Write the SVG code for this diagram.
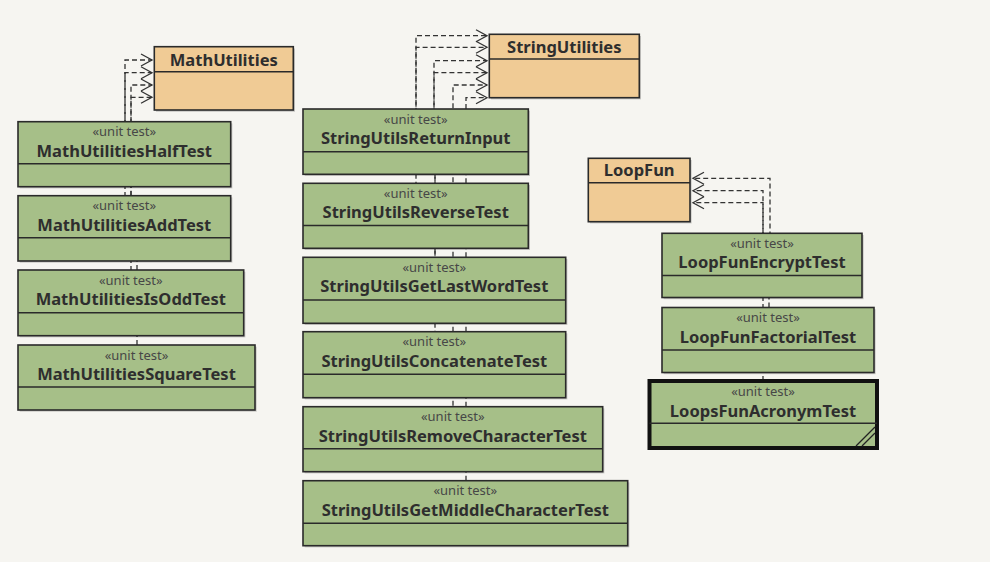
<svg xmlns="http://www.w3.org/2000/svg" width="990" height="562" viewBox="0 0 990 562">
<style>
.bg{fill:#f6f5f1}
.cls{fill:#f0cb95;stroke:#2a2a2a;stroke-width:1.6}
.tst{fill:#a6bf88;stroke:#2a2a2a;stroke-width:1.6}
.sel{fill:#a6bf88;stroke:#111;stroke-width:4}
.shd{fill:#000;opacity:0.18}
.div{stroke:#2a2a2a;stroke-width:1.6;fill:none}
.ttl{font-family:"Noto Sans","Open Sans","DejaVu Sans",sans-serif;font-weight:bold;font-size:16.5px;fill:#2e2e2e;text-anchor:middle}
.st{font-family:"Noto Sans","Open Sans","DejaVu Sans",sans-serif;font-size:13px;fill:#474747;text-anchor:middle}
.dep{fill:none;stroke:#333;stroke-width:1.3;stroke-dasharray:5 3;marker-end:url(#arr)}
.hatch{stroke:#222;stroke-width:1.3}
</style>
<defs>
<marker id="arr" markerUnits="userSpaceOnUse" markerWidth="14" markerHeight="14" refX="12" refY="7" orient="auto">
<path d="M1,1 L12,7 L1,13" fill="none" stroke="#333" stroke-width="1.3"/>
</marker>
</defs>
<rect class="bg" x="0" y="0" width="990" height="562"/>
<g id="connectors">
<path class="dep" d="M137,345 V300 H131 V230 H125 V60 H152"/>
<path class="dep" d="M137,270 V240 H131 V150 H125 V72.7 H152"/>
<path class="dep" d="M131,195.7 V150 V85 H152"/>
<path class="dep" d="M131,121.7 V97.3 H152"/>
<path class="dep" d="M466,109 V97.7 H487"/>
<path class="dep" d="M466,183.3 V160 H453 V85 H487"/>
<path class="dep" d="M466,257.3 V230 H453 V160 H434 V72.7 H487"/>
<path class="dep" d="M466,331.7 V300 H453 V230 H435 V160 H434 V60.7 H487"/>
<path class="dep" d="M466,406.7 V370 H453 V300 H435 V230 H435 V160 H416 V47.3 H487"/>
<path class="dep" d="M466,480.7 V440 H453 V370 H435 V300 H435 V230 H416 V160 H416 V35.7 H487"/>
<path class="dep" d="M763,233.3 V190.7 H693"/>
<path class="dep" d="M769,307.5 V270 H770 V178.3 H693"/>
<path class="dep" d="M763,381 V340 V202.7 H693"/>
</g>
<g id="MathUtilities">
<rect class="shd" x="156" y="48.5" width="139" height="63.3"/>
<rect class="cls" x="154.3" y="46.7" width="139" height="63.3"/>
<line class="div" x1="154.3" y1="71.7" x2="293.3" y2="71.7"/>
<text class="ttl" x="223.8" y="65.5">MathUtilities</text>
</g>
<g id="StringUtilities">
<rect class="shd" x="491" y="36" width="150" height="63.4"/>
<rect class="cls" x="489.3" y="34.3" width="150" height="63.4"/>
<line class="div" x1="489.3" y1="59" x2="639.3" y2="59"/>
<text class="ttl" x="564.3" y="52.8">StringUtilities</text>
</g>
<g id="LoopFun">
<rect class="shd" x="590" y="160" width="101.7" height="63.4"/>
<rect class="cls" x="588.3" y="158.3" width="101.7" height="63.4"/>
<line class="div" x1="588.3" y1="182.7" x2="690" y2="182.7"/>
<text class="ttl" x="639.2" y="176.3">LoopFun</text>
</g>
<g id="MathUtilitiesHalfTest">
<rect class="shd" x="19.7" y="123.4" width="212.7" height="65"/>
<rect class="tst" x="18" y="121.7" width="212.7" height="65"/>
<line class="div" x1="18" y1="163.7" x2="230.7" y2="163.7"/>
<text class="st" x="124.3" y="136.2">«unit test»</text>
<text class="ttl" x="124.3" y="156.7">MathUtilitiesHalfTest</text>
</g>
<g id="MathUtilitiesAddTest">
<rect class="shd" x="19.7" y="197.4" width="212.7" height="65.3"/>
<rect class="tst" x="18" y="195.7" width="212.7" height="65.3"/>
<line class="div" x1="18" y1="237.7" x2="230.7" y2="237.7"/>
<text class="st" x="124.3" y="210.2">«unit test»</text>
<text class="ttl" x="124.3" y="230.7">MathUtilitiesAddTest</text>
</g>
<g id="MathUtilitiesIsOddTest">
<rect class="shd" x="19.7" y="271.7" width="225.7" height="65.7"/>
<rect class="tst" x="18" y="270" width="225.7" height="65.7"/>
<line class="div" x1="18" y1="312.7" x2="243.7" y2="312.7"/>
<text class="st" x="130.8" y="284.5">«unit test»</text>
<text class="ttl" x="130.8" y="305">MathUtilitiesIsOddTest</text>
</g>
<g id="MathUtilitiesSquareTest">
<rect class="shd" x="19.7" y="346.7" width="237" height="65"/>
<rect class="tst" x="18" y="345" width="237" height="65"/>
<line class="div" x1="18" y1="387" x2="255" y2="387"/>
<text class="st" x="136.5" y="359.5">«unit test»</text>
<text class="ttl" x="136.5" y="380">MathUtilitiesSquareTest</text>
</g>
<g id="StringUtilsReturnInput">
<rect class="shd" x="304.7" y="110.7" width="225.3" height="65.3"/>
<rect class="tst" x="303" y="109" width="225.3" height="65.3"/>
<line class="div" x1="303" y1="151.7" x2="528.3" y2="151.7"/>
<text class="st" x="415.7" y="123.5">«unit test»</text>
<text class="ttl" x="415.7" y="144">StringUtilsReturnInput</text>
</g>
<g id="StringUtilsReverseTest">
<rect class="shd" x="304.7" y="185" width="225.3" height="65"/>
<rect class="tst" x="303" y="183.3" width="225.3" height="65"/>
<line class="div" x1="303" y1="225.5" x2="528.3" y2="225.5"/>
<text class="st" x="415.7" y="197.8">«unit test»</text>
<text class="ttl" x="415.7" y="218.3">StringUtilsReverseTest</text>
</g>
<g id="StringUtilsGetLastWordTest">
<rect class="shd" x="304.7" y="259" width="262.7" height="66"/>
<rect class="tst" x="303" y="257.3" width="262.7" height="66"/>
<line class="div" x1="303" y1="300" x2="565.7" y2="300"/>
<text class="st" x="434.3" y="271.8">«unit test»</text>
<text class="ttl" x="434.3" y="292.3">StringUtilsGetLastWordTest</text>
</g>
<g id="StringUtilsConcatenateTest">
<rect class="shd" x="304.7" y="333.4" width="262.7" height="66"/>
<rect class="tst" x="303" y="331.7" width="262.7" height="66"/>
<line class="div" x1="303" y1="374.3" x2="565.7" y2="374.3"/>
<text class="st" x="434.3" y="346.2">«unit test»</text>
<text class="ttl" x="434.3" y="366.7">StringUtilsConcatenateTest</text>
</g>
<g id="StringUtilsRemoveCharacterTest">
<rect class="shd" x="304.7" y="408.4" width="299.7" height="65"/>
<rect class="tst" x="303" y="406.7" width="299.7" height="65"/>
<line class="div" x1="303" y1="448.7" x2="602.7" y2="448.7"/>
<text class="st" x="452.8" y="421.2">«unit test»</text>
<text class="ttl" x="452.8" y="441.7">StringUtilsRemoveCharacterTest</text>
</g>
<g id="StringUtilsGetMiddleCharacterTest">
<rect class="shd" x="304.7" y="482.4" width="324.7" height="65"/>
<rect class="tst" x="303" y="480.7" width="324.7" height="65"/>
<line class="div" x1="303" y1="523.3" x2="627.7" y2="523.3"/>
<text class="st" x="465.3" y="495.2">«unit test»</text>
<text class="ttl" x="465.3" y="515.7">StringUtilsGetMiddleCharacterTest</text>
</g>
<g id="LoopFunEncryptTest">
<rect class="shd" x="663.7" y="235" width="200" height="64.2"/>
<rect class="tst" x="662" y="233.3" width="200" height="64.2"/>
<line class="div" x1="662" y1="275.5" x2="862" y2="275.5"/>
<text class="st" x="762" y="247.8">«unit test»</text>
<text class="ttl" x="762" y="268.3">LoopFunEncryptTest</text>
</g>
<g id="LoopFunFactorialTest">
<rect class="shd" x="663.7" y="309.2" width="212" height="65"/>
<rect class="tst" x="662" y="307.5" width="212" height="65"/>
<line class="div" x1="662" y1="350" x2="874" y2="350"/>
<text class="st" x="768" y="322">«unit test»</text>
<text class="ttl" x="768" y="342.5">LoopFunFactorialTest</text>
</g>
<g id="LoopsFunAcronymTest">
<rect class="shd" x="651.5" y="383" width="227.5" height="67"/>
<rect class="sel" x="649.5" y="381" width="227.5" height="67"/>
<line class="div" x1="649.5" y1="423.3" x2="877" y2="423.3"/>
<text class="st" x="763" y="396">«unit test»</text>
<text class="ttl" x="763" y="416.5">LoopsFunAcronymTest</text>
<line class="hatch" x1="856" y1="446" x2="875" y2="427"/>
<line class="hatch" x1="862" y1="446" x2="875" y2="433"/>
</g>
</svg>
